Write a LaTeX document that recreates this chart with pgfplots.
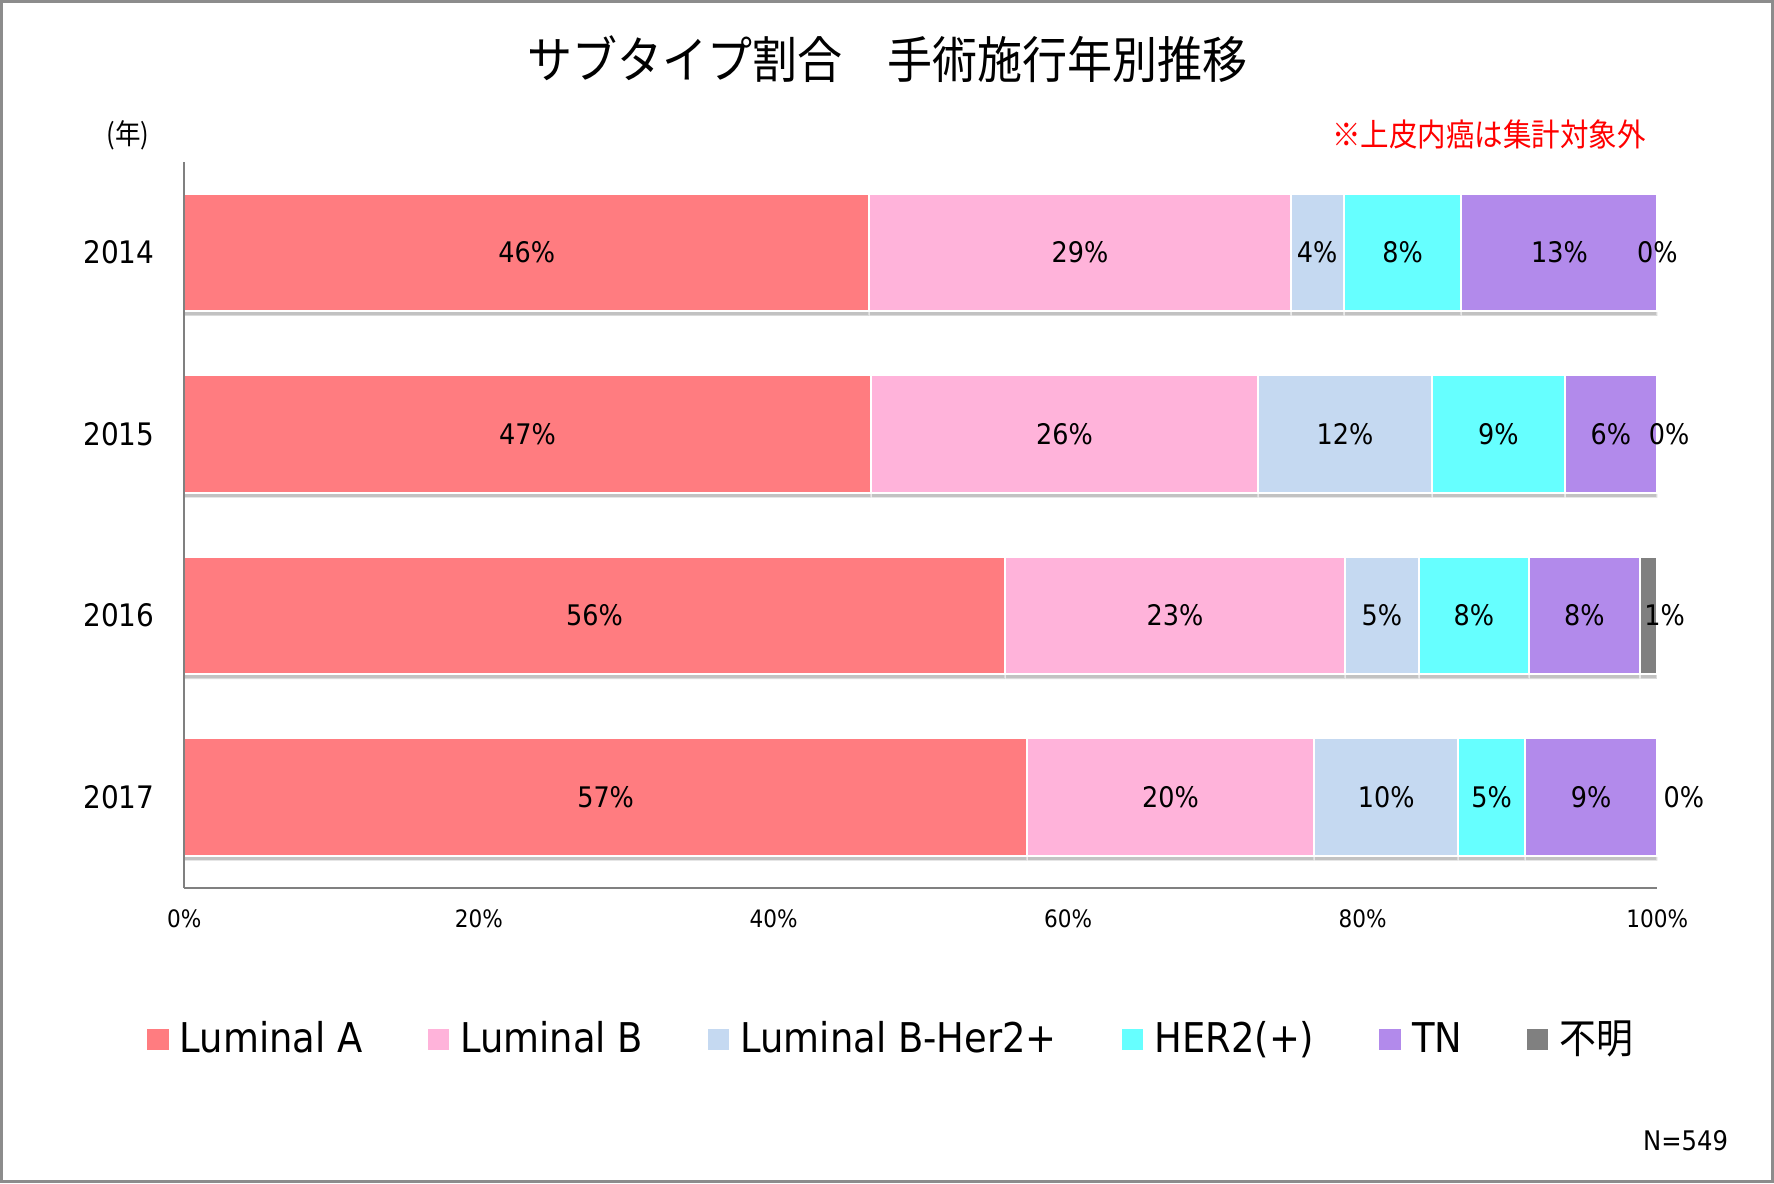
\documentclass[border=0pt]{standalone}
\usepackage{pgfplots}
\pgfplotsset{compat=1.18}
\usepackage{fontspec}
\setmainfont[FakeStretch=0.9]{DejaVu Sans}
\newfontfamily\jp[FakeStretch=0.9]{Noto Sans CJK JP}
\usetikzlibrary{shadows}
\definecolor{cA}{HTML}{FF7C80}
\definecolor{cB}{HTML}{FFB3DA}
\definecolor{cBH}{HTML}{C5D9F1}
\definecolor{cH}{HTML}{66FFFF}
\definecolor{cTN}{HTML}{B28AEB}
\definecolor{cU}{HTML}{808080}
\definecolor{frm}{HTML}{8C8C8C}

\pgfplotsset{
  base/.style={
    at={(55.3pt,-48.5pt)}, anchor=north west,
    width=441.9pt, height=217.9pt, scale only axis,
    xmin=0, xmax=100, ymin=-0.5, ymax=3.5,
    clip=false,
  },
  sq/.style={fill=#1, draw=white, line width=0.6pt,
    drop shadow={shadow xshift=0pt, shadow yshift=-1.4pt, opacity=0.4, fill=black!60},
    legend image code/.code={%
      \pgfpathrectanglecorners{\pgfpoint{0pt}{-3.2pt}}{\pgfpoint{6.4pt}{3.2pt}}%
      \pgfsetfillcolor{#1}\pgfusepath{fill}}},
}
\newcommand{\gap}{\rule{17.5pt}{0pt}}
\begin{document}
\begin{tikzpicture}
\useasboundingbox (0,0) rectangle (532.2pt,-355pt);
\draw[frm, line width=0.9pt] (0.45pt,-0.45pt) rectangle (531.75pt,-354.55pt);
\node[font=\jp\fontsize{15}{18}\selectfont] at (266.1pt,-17.6pt) {サブタイプ割合　手術施行年別推移};
\node[font=\jp\fontsize{8.5}{10}\selectfont] at (38.4pt,-40.7pt) {(年)};
\node[font=\jp\fontsize{9.5}{11}\selectfont, text=red] at (446.7pt,-40.4pt) {※上皮内癌は集計対象外};
\node[font=\fontsize{8.1}{10}\selectfont, anchor=east, inner sep=0pt] at (518.6pt,-342.1pt) {N=549};

\begin{axis}[base,
  axis on top,
  xbar stacked, bar width=35.3pt,
  axis x line*=bottom, axis y line*=left,
  axis line style={draw=gray, line width=0.6pt, -},
  major tick length=0pt,
  xtick={0,20,40,60,80,100},
  xticklabels={0\%,20\%,40\%,60\%,80\%,100\%},
  ytick={0,1,2,3},
  yticklabels={2017,2016,2015,2014},
  xticklabel style={font=\fontsize{7.2}{9}\selectfont, anchor=center, yshift=-9.2pt},
  yticklabel style={font=\fontsize{9.3}{11}\selectfont, anchor=east, inner sep=0pt, xshift=-8.8pt},
  legend columns=6,
  legend style={at={(0.4816,-0.2088)}, anchor=center, draw=none, fill=none,
    font=\fontsize{12.3}{14}\selectfont, column sep=0pt},
]
% y: 3=2014, 2=2015, 1=2016, 0=2017
\addplot[sq=cA]  coordinates {(46.5,3) (46.6,2) (55.7,1) (57.2,0)};
\addplot[sq=cB]  coordinates {(28.6,3) (26.3,2) (23.1,1) (19.5,0)};
\addplot[sq=cBH] coordinates {(3.6,3) (11.8,2) (5.0,1) (9.8,0)};
\addplot[sq=cH]  coordinates {(8.0,3) (9.0,2) (7.5,1) (4.5,0)};
\addplot[sq=cTN] coordinates {(13.3,3) (6.3,2) (7.5,1) (9.0,0)};
\addplot[sq=cU]  coordinates {(0,3) (0,2) (1.2,1) (0,0)};
\addlegendentry{\kern1.4pt Luminal A\gap}
\addlegendentry{\kern1.4pt Luminal B\gap}
\addlegendentry{\kern1.4pt Luminal B-Her2+\gap}
\addlegendentry{\kern1.4pt HER2(+)\gap}
\addlegendentry{\kern1.4pt TN\gap}
\addlegendentry{\kern1.4pt\jp 不明}
\end{axis}

\begin{axis}[base, hide axis]
\addplot[only marks, mark=none, point meta=explicit symbolic,
  nodes near coords={\pgfplotspointmeta\%},
  every node near coord/.style={anchor=center, inner sep=0pt, font=\fontsize{8.5}{10}\selectfont, text=black}]
coordinates {
(23.25,3)[46] (60.8,3)[29] (76.9,3)[4] (82.7,3)[8] (93.35,3)[13] (100,3)[0]
(23.3,2)[47] (59.75,2)[26] (78.8,2)[12] (89.2,2)[9] (96.85,2)[6] (100.8,2)[0]
(27.85,1)[56] (67.25,1)[23] (81.3,1)[5] (87.55,1)[8] (95.05,1)[8] (100.5,1)[1]
(28.6,0)[57] (66.95,0)[20] (81.6,0)[10] (88.75,0)[5] (95.5,0)[9] (101.8,0)[0]
};
\end{axis}
\end{tikzpicture}
\end{document}
